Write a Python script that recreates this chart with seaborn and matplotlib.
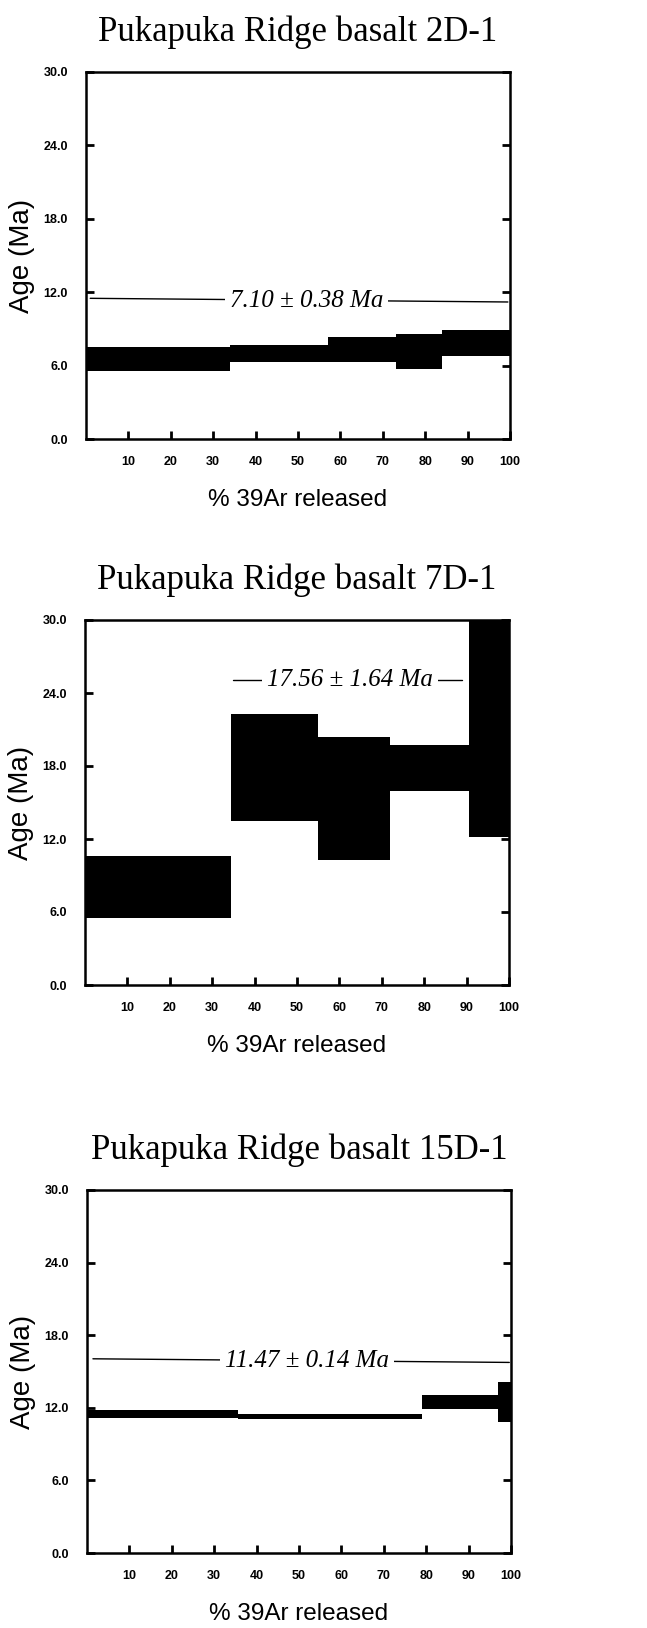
import numpy as np
import seaborn as sns
import matplotlib.pyplot as plt
from matplotlib.ticker import FormatStrFormatter

sns.set_style("ticks", {"axes.edgecolor": "black", "text.color": "black",
                        "axes.labelcolor": "black", "xtick.color": "black",
                        "ytick.color": "black"})
plt.rcParams['font.family'] = ['Liberation Sans', 'DejaVu Sans']

# sample names
samples = ["2D-1", "7D-1", "15D-1"]

# cumulative % 39Ar released at step edges
edges_2d = [0, 34, 57, 73, 84, 100]
edges_7d = [0, 34.5, 55, 72, 90.5, 100]
edges_15d = [0, 35.5, 79, 97, 100]

# age band per step (Ma), low / high
lo_2d = [5.55, 6.3, 6.3, 5.7, 6.8]
hi_2d = [7.48, 7.67, 8.3, 8.58, 8.9]
lo_7d = [5.5, 13.5, 10.3, 15.95, 12.2]
hi_7d = [10.57, 22.3, 20.35, 19.75, 31.0]
lo_15d = [11.15, 11.07, 11.9, 10.8]
hi_15d = [11.83, 11.5, 13.07, 14.1]

# plateau age labels and their guide lines
plateau_txt = ["7.10 \u00b1 0.38 Ma", "17.56 \u00b1 1.64 Ma", "11.47 \u00b1 0.14 Ma"]
plateau_x = [[1, 99.5], [34.8, 89], [1.4, 99.6]]
plateau_y = [[11.5, 11.2], [25.1, 25.1], [16.05, 15.75]]
plateau_tx = [52, 62.4, 51.8]
plateau_ty = [11.3, 25.05, 15.85]

yticks = [0, 6, 12, 18, 24, 30]
xticks = [10, 20, 30, 40, 50, 60, 70, 80, 90, 100]

edges_all = [edges_2d, edges_7d, edges_15d]
lo_all = [lo_2d, lo_7d, lo_15d]
hi_all = [hi_2d, hi_7d, hi_15d]

fig = plt.figure(figsize=(6.47, 16.28), dpi=100)
W, H = 647, 1628
boxes = [(86, 72, 510, 439), (85, 620, 509, 985), (87, 1190, 511, 1553)]

for i, name in enumerate(samples):
    l, t, r, b = boxes[i]
    ax = fig.add_axes([l / W, 1 - b / H, (r - l) / W, (b - t) / H])
    e = np.array(edges_all[i])
    lo = np.array(lo_all[i])
    hi = np.array(hi_all[i])
    ax.bar(e[:-1], hi - lo, bottom=lo, width=np.diff(e), align='edge',
           color='black', linewidth=0, zorder=2)
    sns.lineplot(x=plateau_x[i], y=plateau_y[i], color='black', lw=1,
                 ax=ax, zorder=3)
    ax.text(plateau_tx[i], plateau_ty[i], plateau_txt[i], ha='center', va='center',
            fontsize=18, style='italic', family=['Liberation Serif', 'DejaVu Serif'],
            bbox=dict(boxstyle='square,pad=0.2', fc='white', ec='none'), zorder=4)

    ax.set_xlim(0, 100)
    ax.set_ylim(0, 30)
    ax.set_xticks(xticks)
    ax.set_yticks(yticks)
    ax.yaxis.set_major_formatter(FormatStrFormatter('%.1f'))
    ax.tick_params(axis='y', direction='in', length=6, width=2, left=True, right=True,
                   pad=13, labelsize=9)
    ax.tick_params(axis='x', direction='in', length=6, width=2, top=False,
                   pad=12, labelsize=9)
    for lab in ax.get_xticklabels() + ax.get_yticklabels():
        lab.set_fontweight('bold')
    for sp in ax.spines.values():
        sp.set_visible(True)
        sp.set_linewidth(1.8)
    ax.set_xlabel("% 39Ar released", fontsize=17.5, labelpad=15)
    ax.set_ylabel("Age (Ma)", fontsize=20, labelpad=6)
    ax.set_title("Pukapuka Ridge basalt " + name, fontsize=25, pad=22,
                 family=['Liberation Serif', 'DejaVu Serif'])

fig.savefig("out.png", dpi=100)
